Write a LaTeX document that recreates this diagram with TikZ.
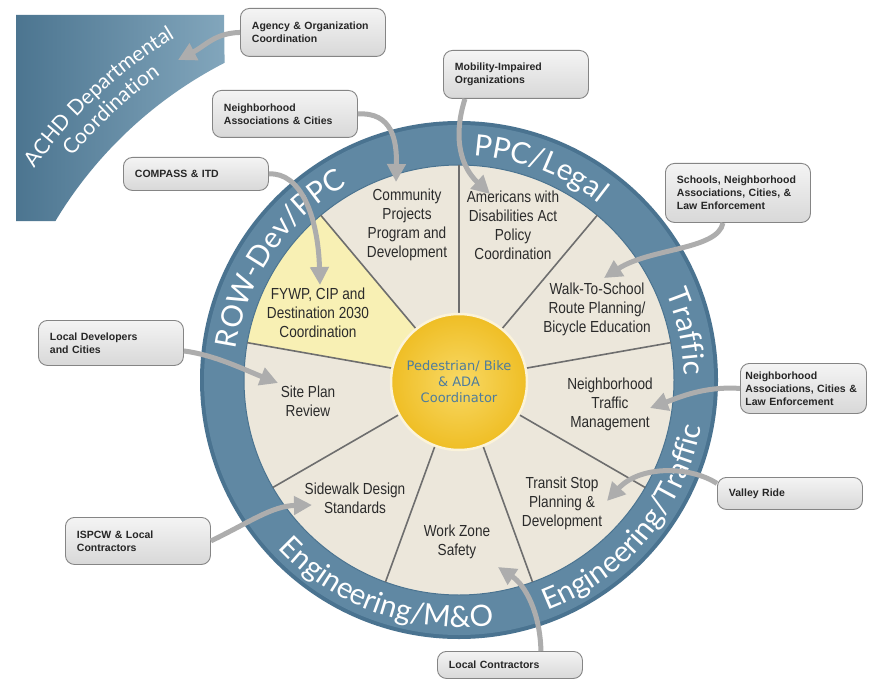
\documentclass[tikz,border=0pt]{standalone}
\usepackage{fontspec}
\usetikzlibrary{decorations.text,arrows.meta}
\setmainfont{Liberation Sans}
\newfontfamily\narrowfont{Liberation Sans}[FakeStretch=0.85]
\newfontfamily\ringfamily{Lato}
\newfontfamily\hubfamily{DejaVu Sans}
\newcommand\ringlabelfont{\ringfamily\fontsize{29.5}{31}\selectfont}
\newcommand\panellabelfont{\ringfamily\fontsize{21}{24}\selectfont}
\newcommand\calloutfont{\hyphenpenalty=10000\relax\bfseries\fontsize{10.5}{13}\selectfont}

\definecolor{ringblue}{HTML}{6088A3}
\definecolor{ringdark}{HTML}{4A7390}
\definecolor{cream}{HTML}{ECE7DB}
\definecolor{paleyellow}{HTML}{F8F0B4}
\definecolor{divider}{HTML}{6E6E6E}
\definecolor{hubin}{HTML}{F8D965}
\definecolor{hubout}{HTML}{EFBE25}
\definecolor{hubrim}{HTML}{FBF3DA}
\definecolor{hubtext}{HTML}{4E7C9C}
\definecolor{boxtop}{HTML}{F4F4F4}
\definecolor{boxbot}{HTML}{D8D8D8}
\definecolor{boxline}{HTML}{858585}
\definecolor{arrowgray}{HTML}{ADADAD}
\definecolor{sectortext}{HTML}{2B2B2B}
\definecolor{panellight}{HTML}{82A6BC}
\definecolor{paneldark}{HTML}{4C7590}

\begin{document}
\begin{tikzpicture}[x=1pt,y=1pt,
  callout/.style={draw=boxline, line width=0.9pt, rounded corners=9pt,
    top color=boxtop, bottom color=boxbot, align=left, text width=122pt,
    inner xsep=11.5pt, inner ysep=0pt, anchor=north west, text=black!85,
    font=\calloutfont},
  sector/.style={align=center, text=sectortext,
    font=\narrowfont\fontsize{16}{19}\selectfont},
  feed/.style={draw=arrowgray, line width=5pt,
    -{Triangle[length=18pt,width=18pt]}},
  ringtext/.style={decorate, decoration={text along path, text align=center,
    text color=white, text={|\ringlabelfont|#1}}},
  paneltext/.style={decorate, decoration={text along path, text align=center,
    text color=white, text={|\panellabelfont|#1}}},
]
\fill[white] (0,0) rectangle (869,-679);
\useasboundingbox (0,0) rectangle (869,-679);

% departmental coordination panel
\shade[left color=paneldark, right color=panellight]
  (16,-15) -- (224,-15) -- (224.6,-62.8)
  arc[start angle=117.2, end angle=149, radius=423] -- (16,-221) -- cycle;
\path[paneltext={ACHD Departmental}] (418,-439) ++(150:469)
  arc[start angle=150, end angle=116, radius=469];
\path[paneltext={Coordination}] (418,-439) ++(150:446)
  arc[start angle=150, end angle=116, radius=446];

% the wheel
\begin{scope}[shift={(459,-380)}]
  \fill[ringdark] (0,0) circle[radius=259];
  \fill[ringblue] (0,0) circle[radius=255];
  \fill[cream] (0,0) circle[radius=215];
  \fill[paleyellow] (0,0) -- (130:215)
    arc[start angle=130, end angle=170, radius=215] -- cycle;
  \draw[ringdark, line width=1pt] (0,0) circle[radius=215];
  \foreach \a in {10,50,...,330}
    \draw[divider, line width=1.6pt] (\a:60) -- (\a:215);
  \path[ringtext={ROW-Dev/PPC}] (180:225) arc[start angle=180, end angle=112, radius=225];
  \path[ringtext={PPC/Legal}] (97:225) arc[start angle=97, end angle=41, radius=225];
  \path[ringtext={Traffic}] (32:225) arc[start angle=32, end angle=-8, radius=225];
  \path[ringtext={Engineering/Traffic}] (-77:247) arc[start angle=-77, end angle=-3, radius=247];
  \path[ringtext={Engineering/M{\&}O}] (213:247) arc[start angle=213, end angle=288, radius=247];
\end{scope}

\node[circle, minimum size=136pt, inner sep=0pt, inner color=hubin,
  outer color=hubout, draw=hubrim, line width=2.5pt, align=center,
  text=hubtext, font=\hubfamily\fontsize{13}{16}\selectfont]
  (hub) at (459,-382) {Pedestrian/ Bike\\\& ADA\\Coordinator};

% activity sectors
\node[sector] (community) at (407,-225) {Community\\Projects\\Program and\\Development};
\node[sector] (ada) at (513,-225) {Americans with\\Disabilities Act\\Policy\\Coordination};
\node[sector] (walk) at (597,-309) {Walk-To-School\\Route Planning/\\Bicycle Education};
\node[sector] (nbtraffic) at (610,-404) {Neighborhood\\Traffic\\Management};
\node[sector] (transit) at (562,-503) {Transit Stop\\Planning \&\\Development};
\node[sector] (workzone) at (457,-542) {Work Zone\\Safety};
\node[sector] (sidewalk) at (355,-498) {Sidewalk Design\\Standards};
\node[sector] (siteplan) at (308,-401) {Site Plan\\Review};
\node[sector] (fywp) at (318,-313) {FYWP, CIP and\\Destination 2030\\Coordination};

% partners
\node[callout, minimum height=48pt] (agency) at (240,-8) {Agency \& Organization\\Coordination};
\node[callout, minimum height=47pt] (nbhd) at (212,-90) {Neighborhood\\Associations \& Cities};
\node[callout, minimum height=33pt] (compass) at (123,-157) {COMPASS \& ITD};
\node[callout, minimum height=48pt] (mobility) at (443,-50) {Mobility-Impaired\\Organizations};
\node[callout, minimum height=59pt] (schools) at (665,-163) {Schools, Neighborhood\\Associations, Cities, \&\\Law Enforcement};
\node[callout, minimum height=50pt, text width=116pt, inner xsep=5pt] (lawenf) at (740,-363) {Neighborhood\\Associations, Cities \&\\Law Enforcement};
\node[callout, minimum height=32pt] (valley) at (717,-477) {Valley Ride};
\node[callout, minimum height=47pt] (ispcw) at (65,-517) {ISPCW \& Local\\Contractors};
\node[callout, minimum height=27pt] (localcon) at (437,-651) {Local Contractors};
\node[callout, minimum height=45pt] (localdev) at (38,-320) {Local Developers\\and Cities};

% arrow tips
\coordinate (tipachd) at (178,-60);
\coordinate (tipcommunity) at (396,-182);
\coordinate (tipfywp) at (320,-285);
\coordinate (tipada) at (490,-194);
\coordinate (tipwalk) at (604,-278);
\coordinate (tipnbtraffic) at (650,-408);
\coordinate (tiptransit) at (607,-501);
\coordinate (tipsidewalk) at (312,-505);
\coordinate (tipworkzone) at (498,-567);
\coordinate (tipsiteplan) at (278,-383);

\draw[feed] (agency.west) .. controls (215,-33) and (205,-46) .. (tipachd);
\draw[feed] (nbhd.east) .. controls (392,-112) and (397,-140) .. (tipcommunity);
\draw[feed] (compass.east) .. controls (300,-172) and (318,-215) .. (tipfywp);
\draw[feed] ([xshift=-51pt]mobility.south) .. controls (452,-140) and (462,-168) .. (tipada);
\draw[feed] ([xshift=-15pt]schools.south) .. controls (718,-250) and (650,-248) .. (tipwalk);
\draw[feed] (lawenf.west) .. controls (705,-386) and (680,-397) .. (tipnbtraffic);
\draw[feed] ([yshift=10pt]valley.west) .. controls (690,-466) and (640,-465) .. (tiptransit);
\draw[feed] (ispcw.east) .. controls (250,-522) and (272,-506) .. (tipsidewalk);
\draw[feed] ([xshift=31pt]localcon.north) .. controls (540,-612) and (525,-585) .. (tipworkzone);
\draw[feed] ([yshift=-8pt]localdev.east) .. controls (215,-355) and (245,-370) .. (tipsiteplan);
\end{tikzpicture}
\end{document}
